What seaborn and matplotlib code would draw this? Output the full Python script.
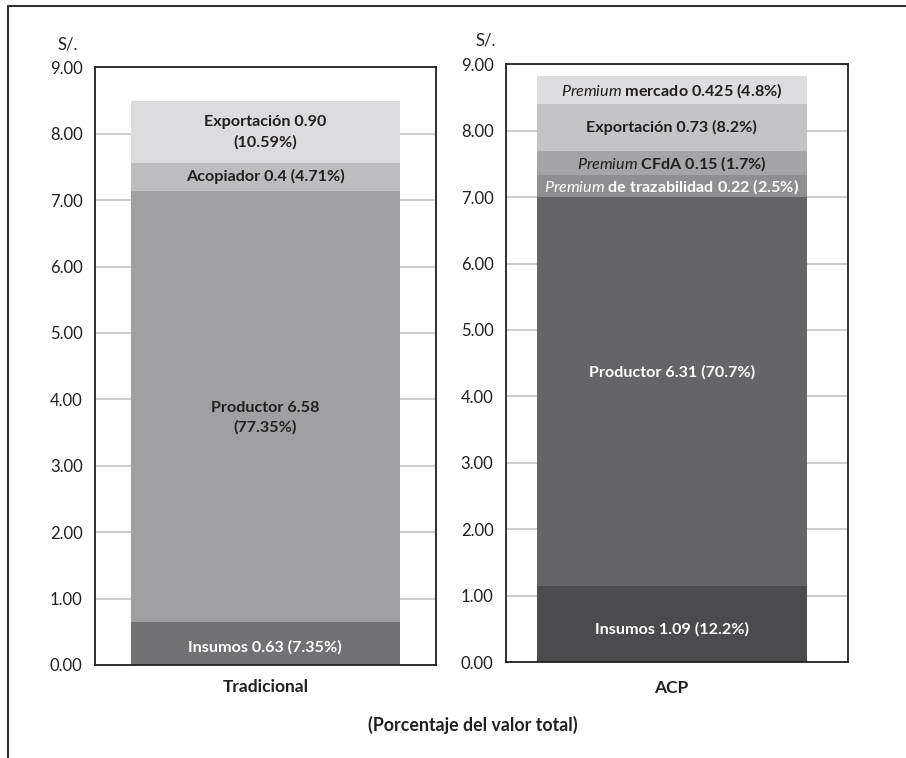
import matplotlib
matplotlib.use("Agg")
import matplotlib.pyplot as plt
from matplotlib.lines import Line2D
import numpy as np
import seaborn as sns

# Segment heights as drawn in the picture (bottom to top); labels carry the printed values
trad_segments = ["Insumos", "Productor", "Acopiador", "Exportación"]
trad_heights = [0.64, 6.50, 0.42, 0.93]
trad_labels = ["Insumos 0.63 (7.35%)", "Productor 6.58\n(77.35%)",
               "Acopiador 0.4 (4.71%)", "Exportación 0.90\n(10.59%)"]

acp_segments = ["Insumos", "Productor", "Premium trazabilidad", "Premium CFdA",
                "Exportación", "Premium mercado"]
acp_heights = [1.15, 5.85, 0.33, 0.36, 0.71, 0.42]
acp_labels = ["Insumos 1.09 (12.2%)", "Productor 6.31 (70.7%)",
              r"$\it{Premium}$ de trazabilidad 0.22 (2.5%)",
              r"$\it{Premium}$ CFdA 0.15 (1.7%)",
              "Exportación 0.73 (8.2%)",
              r"$\it{Premium}$ mercado 0.425 (4.8%)"]

y_ticks = [0, 1, 2, 3, 4, 5, 6, 7, 8, 9]

# styling
trad_colors = ["#727274", "#a0a0a2", "#bdbdbf", "#dcdcde"]
trad_text = ["white", "#231f20", "#231f20", "#231f20"]
trad_offset = [-0.06, -0.17, 0, 0]
acp_colors = ["#4b4b4d", "#656567", "#8f8f91", "#a5a5a7", "#c4c4c6", "#dddddf"]
acp_text = ["white", "white", "white", "#231f20", "#231f20", "#231f20"]
acp_offset = [-0.09, 0.28, 0, 0, 0, 0]

sns.set_style("white")
plt.rcParams["font.family"] = ["Lato", "DejaVu Sans"]
plt.rcParams["mathtext.fontset"] = "custom"
plt.rcParams["mathtext.it"] = "Lato:italic"
plt.rcParams["mathtext.rm"] = "Lato:bold"
plt.rcParams["mathtext.bf"] = "Lato:bold"

fig = plt.figure(figsize=(9.06, 7.58), dpi=100)
ax1 = fig.add_axes([0.1049, 0.1227, 0.376, 0.7885])
ax2 = fig.add_axes([0.5585, 0.1266, 0.3771, 0.7885])


def stacked(ax, cat, heights, colors, labels, text_colors, offsets):
    tops = np.cumsum(heights)
    # draw cumulative totals from top to bottom so each layer covers the next
    for i in reversed(range(len(heights))):
        sns.barplot(x=[cat], y=[tops[i]], color=colors[i], saturation=1,
                    width=0.79, linewidth=0, ax=ax)
    for i, lab in enumerate(labels):
        mid = tops[i] - heights[i] / 2 + offsets[i]
        ax.text(0, mid, lab, ha="center", va="center", fontsize=11.6,
                fontweight="bold", color=text_colors[i], linespacing=1.5)
    ax.set_ylim(0, 9)
    ax.set_yticks(y_ticks)
    ax.set_yticklabels([f"{v:.2f}" for v in y_ticks], fontsize=12, color="#231f20")
    ax.yaxis.grid(True, color="#c8c8c8", lw=1.3)
    ax.set_axisbelow(True)
    ax.set_xlabel("")
    ax.set_ylabel("")
    for s in ax.spines.values():
        s.set_visible(True)
        s.set_color("#231f20")
        s.set_linewidth(1.3)
    for t in ax.get_xticklabels():
        t.set_fontweight("bold")
        t.set_fontsize(12.5)
        t.set_color("#231f20")


stacked(ax1, "Tradicional", trad_heights, trad_colors, trad_labels, trad_text, trad_offset)
stacked(ax2, "ACP", acp_heights, acp_colors, acp_labels, acp_text, acp_offset)
ax1.set_xlim(-0.5, 0.5)
ax2.set_xlim(-0.485, 0.515)
ax1.tick_params(axis="both", length=0)
ax1.tick_params(axis="y", pad=9)
ax1.tick_params(axis="x", pad=10)
ax2.tick_params(axis="both", length=0)
ax2.tick_params(axis="y", pad=9)
ax2.tick_params(axis="x", pad=13)

fig.text(57 / 906, 1 - 44 / 758, "S/.", fontsize=12, va="center", ha="left", color="#231f20")
fig.text(475 / 906, 1 - 41 / 758, "S/.", fontsize=12, va="center", ha="left", color="#231f20")
fig.text(473 / 906, 1 - 725 / 758, "(Porcentaje del valor total)", fontsize=12.8,
         fontweight="bold", ha="center", va="center", color="#231f20")

# outer frame (top and left edges only)
fig.add_artist(Line2D([8 / 906, 1], [1 - 6 / 758, 1 - 6 / 758], color="#333333", lw=1.5,
                      transform=fig.transFigure))
fig.add_artist(Line2D([8 / 906, 8 / 906], [0, 1 - 6 / 758], color="#333333", lw=1.5,
                      transform=fig.transFigure))

fig.savefig("out.png", dpi=100)
